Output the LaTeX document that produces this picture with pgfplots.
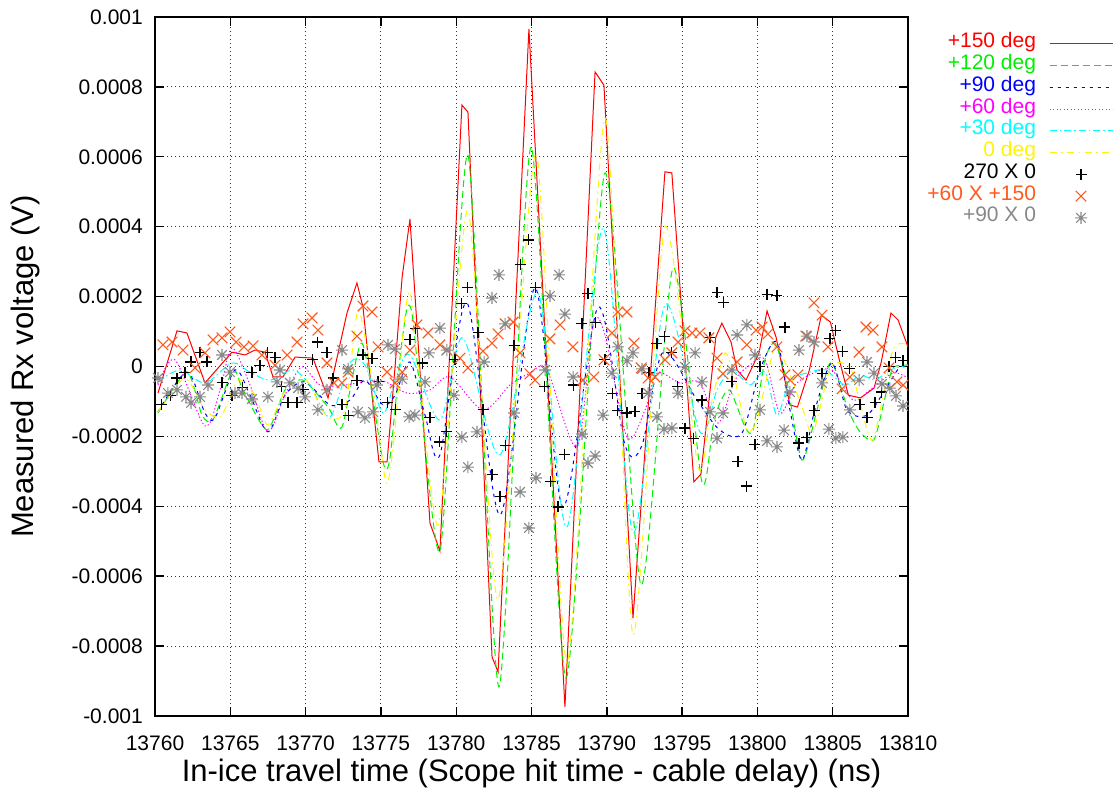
\documentclass[border=0pt]{standalone}
\usepackage{fontspec}
\setmainfont{Liberation Sans}
% coloured faces for the legend texts
\newfontfamily\kred{Liberation Sans}[Color=FF0000]
\newfontfamily\kgreen{Liberation Sans}[Color=00F000]
\newfontfamily\kblue{Liberation Sans}[Color=0000FF]
\newfontfamily\kmagenta{Liberation Sans}[Color=FF00FF]
\newfontfamily\kcyan{Liberation Sans}[Color=00FFFF]
\newfontfamily\kyellow{Liberation Sans}[Color=FFF500]
\newfontfamily\korange{Liberation Sans}[Color=FF5A1E]
\newfontfamily\kgray{Liberation Sans}[Color=888888]
\usepackage{pgfplots}
\pgfplotsset{compat=1.18}

\definecolor{gpred}{RGB}{255,0,0}
\definecolor{gpgreen}{RGB}{0,240,0}
\definecolor{gpblue}{RGB}{0,0,255}
\definecolor{gpmagenta}{RGB}{255,0,255}
\definecolor{gpcyan}{RGB}{0,255,255}
\definecolor{gpyellow}{RGB}{255,245,0}
\definecolor{gporange}{RGB}{255,90,30}
\definecolor{gpgray}{RGB}{136,136,136}

% gnuplot-style "*" point: a plus and a cross laid over each other
\pgfdeclareplotmark{gpstar}{%
  \pgfpathmoveto{\pgfqpoint{-\pgfplotmarksize}{0pt}}%
  \pgfpathlineto{\pgfqpoint{\pgfplotmarksize}{0pt}}%
  \pgfpathmoveto{\pgfqpoint{0pt}{-\pgfplotmarksize}}%
  \pgfpathlineto{\pgfqpoint{0pt}{\pgfplotmarksize}}%
  \pgfpathmoveto{\pgfqpoint{-.8\pgfplotmarksize}{-.8\pgfplotmarksize}}%
  \pgfpathlineto{\pgfqpoint{.8\pgfplotmarksize}{.8\pgfplotmarksize}}%
  \pgfpathmoveto{\pgfqpoint{-.8\pgfplotmarksize}{.8\pgfplotmarksize}}%
  \pgfpathlineto{\pgfqpoint{.8\pgfplotmarksize}{-.8\pgfplotmarksize}}%
  \pgfusepathqstroke}

% legend samples: a 63bp line in the given colour and dash, or a single mark
\pgfplotsset{
  linekey/.style 2 args={legend image code/.code={%
    \pgfsetstrokecolor{#1}\pgfsetlinewidth{1bp}\pgfsetdash{#2}{0pt}%
    \pgfpathmoveto{\pgfqpoint{0bp}{0bp}}%
    \pgfpathlineto{\pgfqpoint{63bp}{0bp}}%
    \pgfusepath{stroke}}},
  markkey/.style={legend image code/.code={\draw[#1] plot coordinates {(31.5bp,0bp)};}},
}

\begin{document}
\begin{tikzpicture}
\begin{axis}[
  scale only axis,
  width=753bp, height=699bp,
  xmin=13760, xmax=13810,
  ymin=-0.001, ymax=0.001,
  scaled x ticks=false, scaled y ticks=false,
  xtick={13760,13765,13770,13775,13780,13785,13790,13795,13800,13805,13810},
  xticklabels={13760,13765,13770,13775,13780,13785,13790,13795,13800,13805,13810},
  ytick={-0.001,-0.0008,-0.0006,-0.0004,-0.0002,0,0.0002,0.0004,0.0006,0.0008,0.001},
  yticklabels={-0.001,-0.0008,-0.0006,-0.0004,-0.0002,0,0.0002,0.0004,0.0006,0.0008,0.001},
  tick label style={font=\fontsize{21bp}{24bp}\selectfont},
  xticklabel style={inner sep=0pt, yshift=-20bp},
  yticklabel style={inner sep=0pt, xshift=-12bp},
  tick align=inside,
  major tick length=9bp,
  every tick/.style={black, line width=1.4bp},
  axis line style={black, line width=2bp},
  grid=major,
  grid style={black!80, line width=0.9bp, dash pattern=on 1.3bp off 2.7bp},
  xlabel={In-ice travel time (Scope hit time - cable delay) (ns)},
  ylabel={Measured Rx voltage (V)},
  label style={font=\fontsize{31bp}{35bp}\selectfont},
  xlabel style={at={(axis description cs:0.5,-0.0930)}, anchor=base},
  ylabel style={at={(axis description cs:-0.1620,0.5)}, anchor=base},
  legend plot pos=right,
  legend cell align=right,
  legend style={
    at={(axis description cs:1,1)}, anchor=north east,
    xshift=205bp, yshift=-16bp,
    draw=none, fill=none, inner sep=0pt, outer sep=0pt,
    column sep=13bp, row sep=0pt,
    font=\fontsize{21bp}{24bp}\selectfont,
    nodes={inner sep=0pt, text height=15bp, text depth=6.75bp},
  },
]

% +150 deg
\addplot[gpred, line width=1bp, linekey={gpred}{}] coordinates {
(13760.20,-0.76e-4)(13761.46,1.02e-4)(13762.12,0.96e-4)(13763.32,-0.47e-4)
(13765.11,0.41e-4)(13765.98,0.33e-4)(13766.64,0.47e-4)(13767.30,0.41e-4)
(13767.84,-0.30e-4)(13768.50,-0.30e-4)(13769.30,0.27e-4)(13770.49,0.24e-4)
(13771.49,-0.90e-4)(13772.75,1.53e-4)(13773.41,2.39e-4)(13773.81,1.70e-4)
(13774.87,-2.73e-4)(13775.41,-2.73e-4)(13775.94,-0.01e-4)(13776.41,2.56e-4)
(13776.93,4.22e-4)(13778.26,-4.48e-4)(13778.92,-5.28e-4)(13780.38,7.48e-4)
(13780.78,7.28e-4)(13782.38,-8.31e-4)(13782.78,-8.74e-4)(13784.83,9.66e-4)
(13787.22,-9.74e-4)(13789.22,8.43e-4)(13789.81,8.05e-4)(13791.74,-7.20e-4)
(13793.86,5.57e-4)(13794.32,5.54e-4)(13795.78,-3.30e-4)(13796.25,-3.08e-4)
(13797.24,0.84e-4)(13797.64,1.24e-4)(13798.25,0.70e-4)(13798.65,-0.10e-4)
(13799.24,-0.39e-4)(13800.11,0.39e-4)(13800.64,1.59e-4)(13801.24,0.84e-4)
(13802.16,-1.10e-4)(13802.66,-1.16e-4)(13803.45,-0.10e-4)(13804.25,1.47e-4)
(13804.85,1.27e-4)(13805.44,0.19e-4)(13806.04,-0.82e-4)(13806.84,-0.90e-4)
(13807.74,-0.62e-4)(13808.21,0.10e-4)(13808.87,1.53e-4)(13809.34,1.33e-4)
(13810.00,0.56e-4)};
\addlegendentry{\kred +150 deg}

% +120 deg
\addplot[gpgreen, line width=1bp, dash pattern=on 7bp off 4bp, smooth, tension=0.4,
  linekey={gpgreen}{{7bp}{4bp}}] coordinates {
(13760.20,-1.33e-4)(13762.12,-0.16e-4)(13763.12,-1.39e-4)(13763.85,-1.53e-4)
(13765.18,-0.10e-4)(13765.84,-0.67e-4)(13767.44,-1.82e-4)(13768.63,-0.67e-4)
(13769.83,-0.39e-4)(13771.49,-1.16e-4)(13772.42,-1.73e-4)(13773.75,0.67e-4)
(13775.14,-2.73e-4)(13775.61,-2.59e-4)(13776.41,0.76e-4)(13777.06,1.53e-4)
(13778.92,-5.28e-4)(13780.78,6.05e-4)(13782.84,-9.17e-4)(13784.97,6.28e-4)
(13787.29,-8.91e-4)(13789.88,5.54e-4)(13792.27,-6.25e-4)(13794.39,2.82e-4)
(13796.31,-3.30e-4)(13797.04,-1.73e-4)(13797.51,-1.04e-4)(13798.17,-0.67e-4)
(13799.18,-1.73e-4)(13799.71,-1.82e-4)(13800.50,0.19e-4)(13801.17,0.67e-4)
(13801.97,-0.47e-4)(13802.96,-2.68e-4)(13803.96,-1.24e-4)(13804.89,0.13e-4)
(13806.02,-1.24e-4)(13806.81,-1.87e-4)(13807.74,-2.10e-4)(13808.47,-0.90e-4)
(13809.00,-0.04e-4)(13810.00,0.04e-4)};
\addlegendentry{\kgreen +120 deg}

% +90 deg
\addplot[gpblue, line width=1bp, dash pattern=on 3.5bp off 4.5bp, smooth, tension=0.5,
  linekey={gpblue}{{3.5bp}{4.5bp}}] coordinates {
(13760.20,-1.30e-4)(13762.12,-0.16e-4)(13763.32,-1.33e-4)(13763.98,-1.47e-4)
(13765.31,-0.10e-4)(13766.31,-0.82e-4)(13767.50,-1.87e-4)(13768.63,-0.82e-4)
(13769.96,-0.44e-4)(13771.62,-1.10e-4)(13772.95,-0.96e-4)(13773.94,-0.39e-4)
(13775.14,-1.10e-4)(13775.94,-0.82e-4)(13776.93,0.13e-4)(13777.93,-1.39e-4)
(13778.92,-2.53e-4)(13780.72,1.82e-4)(13782.91,-4.25e-4)(13785.23,2.25e-4)
(13787.09,-4.02e-4)(13789.42,1.70e-4)(13791.21,-2.25e-4)(13792.34,-2.25e-4)
(13793.73,0.41e-4)(13795.99,-0.96e-4)(13797.51,-1.82e-4)(13798.98,-1.90e-4)
(13800.17,-0.10e-4)(13801.30,0.70e-4)(13802.16,-1.24e-4)(13802.96,-2.68e-4)
(13803.82,-1.24e-4)(13804.95,0.10e-4)(13805.95,-1.24e-4)(13807.28,-1.39e-4)
(13808.47,-0.67e-4)(13809.47,-0.01e-4)(13810.00,-0.10e-4)};
\addlegendentry{\kblue +90 deg}

% +60 deg
\addplot[gpmagenta, line width=1bp, dash pattern=on 1.3bp off 2.2bp, smooth, tension=0.5,
  linekey={gpmagenta}{{1.3bp}{2.2bp}}] coordinates {
(13760.20,-0.53e-4)(13761.33,0.19e-4)(13763.32,-1.70e-4)(13764.32,-0.67e-4)
(13765.11,0.53e-4)(13766.31,-0.53e-4)(13767.50,-1.87e-4)(13768.63,-0.82e-4)
(13769.76,-0.01e-4)(13770.96,-0.53e-4)(13772.62,-0.53e-4)(13774.94,-0.39e-4)
(13776.73,-0.76e-4)(13778.26,-0.67e-4)(13779.59,-0.30e-4)(13781.78,-1.24e-4)
(13783.57,-0.53e-4)(13784.90,-0.19e-4)(13786.03,-0.10e-4)(13788.02,-2.30e-4)
(13789.08,1.19e-4)(13789.88,0.90e-4)(13791.34,-2.02e-4)(13792.54,-1.24e-4)
(13793.33,-0.19e-4)(13794.86,-0.47e-4)(13796.18,-0.47e-4)(13797.38,-1.62e-4)
(13798.51,-0.39e-4)(13799.51,0.04e-4)(13800.50,0.19e-4)(13801.50,-1.33e-4)
(13802.50,-0.53e-4)(13803.69,-0.19e-4)(13804.95,-0.10e-4)(13806.35,-0.96e-4)
(13807.48,-0.67e-4)(13809.00,-0.19e-4)(13810.00,-0.33e-4)};
\addlegendentry{\kmagenta +60 deg}

% +30 deg
\addplot[gpcyan, line width=1bp, dash pattern=on 7bp off 3bp on 1.5bp off 3bp, smooth, tension=0.5,
  linekey={gpcyan}{{7bp}{3bp}{1.5bp}{3bp}}] coordinates {
(13760.20,-0.44e-4)(13761.66,-0.10e-4)(13763.32,-0.47e-4)(13765.11,0.10e-4)
(13766.31,-0.16e-4)(13767.64,-0.39e-4)(13769.16,-0.10e-4)(13770.29,-0.53e-4)
(13771.62,-1.44e-4)(13772.95,0.10e-4)(13773.94,0.04e-4)(13775.14,-1.33e-4)
(13775.94,-0.39e-4)(13776.93,0.33e-4)(13778.92,-1.53e-4)(13780.45,0.82e-4)
(13782.91,-2.53e-4)(13785.43,2.10e-4)(13787.36,-4.59e-4)(13789.75,3.96e-4)
(13791.74,-4.74e-4)(13793.86,1.76e-4)(13796.18,-1.87e-4)(13797.32,-0.67e-4)
(13798.31,-0.10e-4)(13799.50,-0.53e-4)(13800.50,-0.16e-4)(13801.30,-1.39e-4)
(13802.16,-0.39e-4)(13803.29,-0.19e-4)(13804.49,-0.10e-4)(13805.82,-0.53e-4)
(13806.81,-0.24e-4)(13807.81,-0.39e-4)(13808.80,-0.10e-4)(13810.00,0.04e-4)};
\addlegendentry{\kcyan +30 deg}

% 0 deg
\addplot[gpyellow, line width=1bp, dash pattern=on 7bp off 4.5bp on 1.5bp off 4.5bp, smooth, tension=0.4,
  linekey={gpyellow}{{7bp}{4.5bp}{1.5bp}{4.5bp}}] coordinates {
(13760.20,-1.30e-4)(13761.99,-0.33e-4)(13763.32,-1.24e-4)(13764.38,-1.44e-4)
(13765.51,-0.39e-4)(13766.64,-0.82e-4)(13767.50,-1.67e-4)(13768.83,-0.53e-4)
(13769.96,-0.33e-4)(13771.42,-1.44e-4)(13772.62,-1.24e-4)(13773.48,1.62e-4)
(13774.41,-0.39e-4)(13775.34,-3.33e-4)(13775.87,-2.10e-4)(13776.93,2.13e-4)
(13778.79,-4.54e-4)(13780.78,4.48e-4)(13782.78,-6.68e-4)(13785.30,6.11e-4)
(13787.36,-8.49e-4)(13789.88,7.11e-4)(13791.74,-7.68e-4)(13793.86,3.99e-4)
(13796.06,-2.88e-4)(13796.99,-0.96e-4)(13797.85,0.39e-4)(13798.51,-0.39e-4)
(13799.30,-1.82e-4)(13799.97,-1.53e-4)(13801.17,0.56e-4)(13802.16,-0.24e-4)
(13803.03,-1.24e-4)(13803.69,-1.90e-4)(13804.89,-0.01e-4)(13806.14,-0.01e-4)
(13806.81,-1.04e-4)(13807.68,-2.10e-4)(13809.00,0.47e-4)(13810.00,0.62e-4)};
\addlegendentry{\kyellow 0 deg}

% 270 X 0
\addplot[black, only marks, mark=+, mark size=5.5bp, line width=1.1bp,
  markkey={black, only marks, mark=+, mark size=5.5bp, line width=1.1bp}] coordinates {
(13760.46,-1.10e-4)(13761.00,-0.84e-4)(13761.46,-0.33e-4)(13761.99,-0.16e-4)
(13762.39,0.13e-4)(13762.99,0.41e-4)(13763.45,0.13e-4)(13764.45,-0.47e-4)
(13765.11,-0.82e-4)(13765.84,-0.59e-4)(13766.44,-0.16e-4)(13766.97,0.04e-4)
(13767.50,0.41e-4)(13767.97,0.27e-4)(13768.37,-0.56e-4)(13768.83,-1.02e-4)
(13769.43,-1.04e-4)(13769.83,-0.67e-4)(13770.43,0.19e-4)(13770.82,0.70e-4)
(13771.42,0.39e-4)(13771.82,-0.33e-4)(13772.42,-1.10e-4)(13772.82,-1.39e-4)
(13773.41,-0.39e-4)(13773.81,0.33e-4)(13774.41,0.24e-4)(13774.81,-0.44e-4)
(13775.41,-1.02e-4)(13775.94,-1.22e-4)(13776.93,0.76e-4)(13777.32,1.10e-4)
(13777.79,0.10e-4)(13778.26,-1.47e-4)(13778.92,-2.16e-4)(13779.38,-1.87e-4)
(13779.92,0.19e-4)(13780.38,1.79e-4)(13780.78,2.25e-4)(13781.45,0.96e-4)
(13781.78,-1.24e-4)(13782.38,-3.10e-4)(13782.91,-3.71e-4)(13783.25,-2.25e-4)
(13783.84,0.59e-4)(13784.24,2.93e-4)(13784.83,3.62e-4)(13785.29,2.25e-4)
(13785.89,-0.56e-4)(13786.29,-3.30e-4)(13786.76,-4.02e-4)(13787.22,-2.53e-4)
(13787.76,-0.53e-4)(13788.35,1.24e-4)(13788.75,2.10e-4)(13789.22,1.27e-4)
(13789.88,0.21e-4)(13790.35,-0.76e-4)(13790.74,-1.25e-4)(13791.34,-1.33e-4)
(13791.87,-1.30e-4)(13792.34,-0.76e-4)(13792.80,-0.16e-4)(13793.33,0.67e-4)
(13793.86,0.87e-4)(13794.32,0.39e-4)(13794.72,-0.56e-4)(13795.19,-1.76e-4)
(13795.78,-2.07e-4)(13796.32,-0.96e-4)(13796.85,0.82e-4)(13797.32,2.13e-4)
(13797.72,1.82e-4)(13798.31,-0.44e-4)(13798.71,-2.73e-4)(13799.30,-3.42e-4)
(13799.84,-2.22e-4)(13800.17,0.01e-4)(13800.64,2.07e-4)(13801.30,2.02e-4)
(13801.83,1.13e-4)(13802.76,-2.19e-4)(13803.29,-2.02e-4)(13803.76,-1.27e-4)
(13804.29,-0.19e-4)(13804.82,0.79e-4)(13805.21,1.04e-4)(13805.68,0.44e-4)
(13806.14,-0.07e-4)(13806.81,-1.10e-4)(13807.28,-1.45e-4)(13807.81,-1.04e-4)
(13808.27,-0.73e-4)(13808.74,-0.01e-4)(13809.14,0.27e-4)(13809.67,0.16e-4)};
\addlegendentry{270 X 0}

% +60 X +150
\addplot[gporange, only marks, mark=x, mark size=7.5bp, line width=1.1bp,
  markkey={gporange, only marks, mark=x, mark size=7.5bp, line width=1.1bp}] coordinates {
(13760.53,0.62e-4)(13761.13,0.70e-4)(13761.86,0.47e-4)(13762.66,-0.04e-4)
(13763.32,0.39e-4)(13763.85,0.76e-4)(13764.45,0.82e-4)(13764.98,0.99e-4)
(13765.38,0.70e-4)(13765.91,0.56e-4)(13766.51,0.59e-4)(13767.10,0.33e-4)
(13767.97,0.04e-4)(13768.77,0.33e-4)(13769.43,0.70e-4)(13769.83,1.22e-4)
(13770.43,1.39e-4)(13770.82,1.04e-4)(13771.42,0.10e-4)(13771.89,-0.47e-4)
(13772.42,-0.47e-4)(13772.82,-0.16e-4)(13773.41,0.87e-4)(13773.81,1.73e-4)
(13774.41,1.56e-4)(13774.81,0.56e-4)(13775.41,-0.16e-4)(13775.94,-0.47e-4)
(13776.41,-0.16e-4)(13776.93,0.47e-4)(13777.40,1.19e-4)(13778.13,0.96e-4)
(13778.92,0.62e-4)(13779.38,0.47e-4)(13780.25,0.24e-4)(13780.78,-0.04e-4)
(13781.78,0.44e-4)(13782.38,0.67e-4)(13782.78,0.93e-4)(13783.25,1.22e-4)
(13783.78,1.27e-4)(13784.24,0.39e-4)(13784.90,-0.21e-4)(13785.23,-0.39e-4)
(13786.22,0.79e-4)(13786.89,1.19e-4)(13787.75,0.56e-4)(13788.41,-0.39e-4)
(13789.14,-0.30e-4)(13789.81,0.19e-4)(13790.34,0.96e-4)(13790.74,1.56e-4)
(13791.34,1.56e-4)(13791.81,0.67e-4)(13792.28,-0.04e-4)(13792.74,-0.33e-4)
(13793.20,-0.30e-4)(13793.86,0.19e-4)(13794.32,0.39e-4)(13794.73,0.70e-4)
(13795.19,1.02e-4)(13795.66,0.96e-4)(13796.18,0.96e-4)(13796.78,0.82e-4)
(13797.32,0.24e-4)(13797.71,-0.21e-4)(13798.65,0.13e-4)(13799.30,0.62e-4)
(13799.91,1.04e-4)(13800.31,1.13e-4)(13800.70,0.93e-4)(13801.30,0.56e-4)
(13801.83,-0.24e-4)(13802.16,-0.39e-4)(13802.69,-0.24e-4)(13803.22,0.87e-4)
(13803.76,1.82e-4)(13804.29,1.47e-4)(13804.69,0.56e-4)(13805.62,-0.64e-4)
(13806.14,-0.30e-4)(13806.75,0.41e-4)(13807.21,1.13e-4)(13807.68,1.04e-4)
(13808.27,0.56e-4)(13808.74,-0.04e-4)(13809.27,-0.44e-4)(13809.67,-0.53e-4)};
\addlegendentry{\korange +60 X +150}

% +90 X 0
\addplot[gpgray, only marks, mark=gpstar, mark size=6bp, line width=1.1bp,
  markkey={gpgray, only marks, mark=gpstar, mark size=6bp, line width=1.1bp}] coordinates {
(13760.20,-0.33e-4)(13760.86,-0.76e-4)(13761.46,-0.67e-4)(13762.06,-0.87e-4)
(13762.39,-1.04e-4)(13762.99,-0.87e-4)(13763.52,-0.53e-4)(13764.45,0.33e-4)
(13764.98,-0.16e-4)(13765.31,-0.76e-4)(13765.78,-0.76e-4)(13766.44,-0.93e-4)
(13767.50,-0.87e-4)(13768.10,-0.44e-4)(13768.30,-0.10e-4)(13768.96,-0.47e-4)
(13769.50,-0.62e-4)(13769.96,-0.87e-4)(13770.82,-1.24e-4)(13771.42,-0.67e-4)
(13772.42,0.47e-4)(13772.82,-0.07e-4)(13773.48,-1.30e-4)(13773.94,-1.47e-4)
(13774.48,-1.30e-4)(13774.74,-0.53e-4)(13775.47,0.62e-4)(13775.94,0.50e-4)
(13776.41,-0.36e-4)(13776.87,-1.44e-4)(13777.26,-1.39e-4)(13777.93,-0.44e-4)
(13778.19,0.39e-4)(13778.92,1.10e-4)(13779.38,0.47e-4)(13779.85,-0.82e-4)
(13780.38,-2.02e-4)(13780.78,-2.88e-4)(13781.38,-1.87e-4)(13781.85,0.13e-4)
(13782.38,1.96e-4)(13782.84,2.62e-4)(13783.25,1.22e-4)(13783.84,-1.33e-4)
(13784.24,-3.59e-4)(13784.83,-4.62e-4)(13785.30,-3.19e-4)(13785.90,-0.10e-4)
(13786.23,2.02e-4)(13786.83,2.62e-4)(13787.22,1.50e-4)(13787.76,-0.30e-4)
(13788.35,-1.93e-4)(13788.75,-2.76e-4)(13789.22,-2.56e-4)(13789.75,-1.39e-4)
(13790.35,-0.19e-4)(13790.74,0.56e-4)(13791.34,0.16e-4)(13791.74,0.39e-4)
(13792.34,-0.07e-4)(13792.74,-0.76e-4)(13793.33,-1.44e-4)(13793.80,-1.79e-4)
(13794.32,-1.76e-4)(13794.73,-0.76e-4)(13795.19,-0.01e-4)(13795.86,0.39e-4)
(13796.32,-0.44e-4)(13796.85,-1.30e-4)(13797.32,-2.05e-4)(13797.72,-1.33e-4)
(13798.31,-0.10e-4)(13798.65,0.90e-4)(13799.30,1.19e-4)(13799.84,0.33e-4)
(13800.17,-1.24e-4)(13800.64,-2.13e-4)(13801.30,-2.30e-4)(13801.77,-1.82e-4)
(13802.16,-0.73e-4)(13802.76,0.47e-4)(13803.29,0.87e-4)(13803.76,0.70e-4)
(13804.29,-0.47e-4)(13804.75,-1.79e-4)(13805.21,-2.05e-4)(13805.68,-2.02e-4)
(13806.14,-1.24e-4)(13806.75,-0.39e-4)(13807.28,0.13e-4)(13807.74,-0.19e-4)
(13808.27,-0.50e-4)(13808.80,-0.62e-4)(13809.20,-0.84e-4)(13809.67,-1.13e-4)};
\addlegendentry{\kgray +90 X 0}

\end{axis}
\pgfresetboundingbox
\path (-155bp,-75bp) rectangle (965bp,716bp);
\end{tikzpicture}
\end{document}
